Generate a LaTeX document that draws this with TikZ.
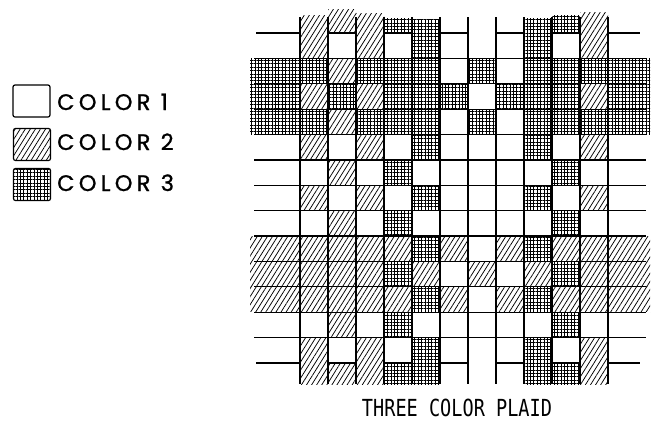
\documentclass[tikz,border=0pt]{standalone}
\usepackage{fontspec}
\usepackage{graphicx}
\newfontfamily\legendfont[LetterSpace=19,FakeBold=1]{Poppins}
\newfontfamily\titlefont{DejaVu Sans Mono}
\usetikzlibrary{patterns.meta}

\tikzset{
  plaid1/.style={fill=white},
  plaid2/.style={fill=white,
    postaction={pattern={Lines[angle=58,distance=4.3pt,line width=.75pt]}}},
  plaid3/.style={fill=white,
    postaction={pattern={Lines[angle=0,distance=3.4pt,line width=1pt]}},
    postaction={pattern={Lines[angle=90,distance=3.4pt,line width=1pt]}}},
  rule/.style={line width=1.2pt},
}

\begin{document}
\begin{tikzpicture}[x=1pt,y=-1pt]
\useasboundingbox (0,0) rectangle (656,421);

% Kolory osnowy i watku
\def\osnowa{{2,2,2,3,3,1,1,1,3,3,2}}
\def\watek{{1,3,3,3,1,1,1,1,2,2,2,1,1}}
\def\gora{{15,9,13,18,19,18,18,18,18,15,12}}

% Watek
\foreach \r in {1,...,13}{
  \pgfmathtruncatemacro\k{\watek[\r-1]}
  \fill[plaid\k] (250,{33+(\r-1)*25.385}) rectangle (650,{33+\r*25.385});
}

% Osnowa
\foreach \c in {1,...,11}{
  \pgfmathtruncatemacro\k{\osnowa[\c-1]}
  \pgfmathsetmacro\t{\gora[\c-1]}
  \fill[plaid\k] ({300+(\c-1)*28},\t) rectangle ({300+\c*28},384);
}

% Watek na wierzchu
\foreach \r in {1,...,13}
  \foreach \c in {1,...,11}{
    \pgfmathtruncatemacro\p{mod(\r+\c,2)}
    \pgfmathtruncatemacro\k{\watek[\r-1]}
    \ifnum\p=1
      \fill[plaid\k] ({300+(\c-1)*28},{33+(\r-1)*25.385}) rectangle ({300+\c*28},{33+\r*25.385});
    \fi
  }

% Linie poziome
\foreach \r in {1,...,12}
  \draw[rule] (254,{33+\r*25.385}) -- (646,{33+\r*25.385});
\foreach \y in {33,363}{
  \draw[rule] (256,\y) -- (300,\y);
  \draw[rule] (608,\y) -- (640,\y);
  \foreach \c in {2,4,...,10}
    \draw[rule] ({300+(\c-1)*28},\y) -- ({300+\c*28},\y);
}

% Linie pionowe
\foreach \c in {0,...,11}
  \draw[rule] ({300+\c*28},17) -- ({300+\c*28},384);

% Legenda
\node[draw, rule, rounded corners=2pt, minimum width=37pt, minimum height=32pt, plaid1] (klucz1) at (31.5,101) {};
\node[draw, rule, rounded corners=2pt, minimum width=37pt, minimum height=32pt, plaid2] (klucz2) at (32,144.5) {};
\node[draw, rule, rounded corners=2pt, minimum width=37pt, minimum height=32pt, plaid3] (klucz3) at (32,184.5) {};
\node[anchor=base west, inner sep=0pt, font=\legendfont\fontsize{22.5}{22.5}\selectfont] (opis1) at (57,110) {COLOR 1};
\node[anchor=base west, inner sep=0pt, font=\legendfont\fontsize{22.5}{22.5}\selectfont] (opis2) at (57,150) {COLOR 2};
\node[anchor=base west, inner sep=0pt, font=\legendfont\fontsize{22.5}{22.5}\selectfont] (opis3) at (57,191) {COLOR 3};

% Podpis
\node[anchor=base, inner sep=0pt, font=\titlefont\fontsize{23.5}{23.5}\selectfont] (tytul) at (457,416) {\scalebox{0.79}[1]{THREE COLOR PLAID}};
\end{tikzpicture}
\end{document}
